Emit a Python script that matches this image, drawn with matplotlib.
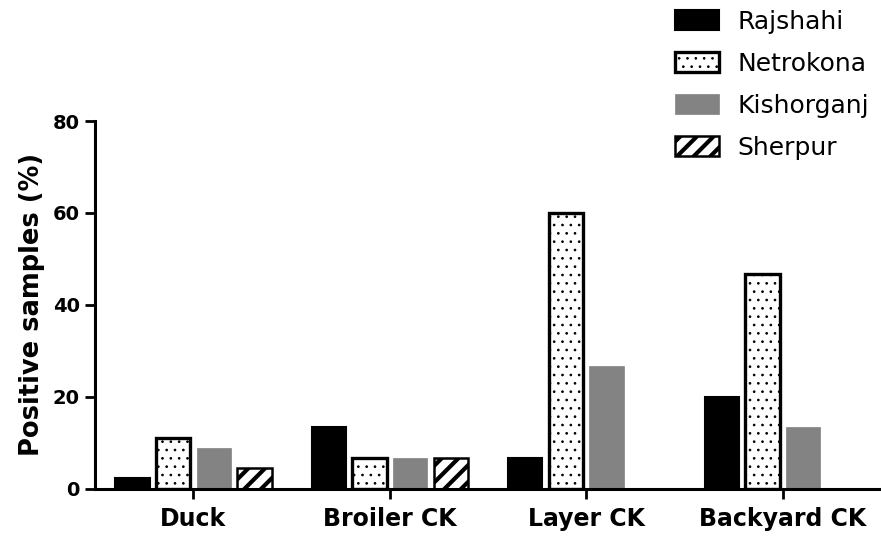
import matplotlib
matplotlib.use("Agg")
import matplotlib.pyplot as plt
import numpy as np

categories = ["Duck", "Broiler CK", "Layer CK", "Backyard CK"]
series_names = ["Rajshahi", "Netrokona", "Kishorganj", "Sherpur"]
rajshahi = [2.2, 13.3, 6.7, 20.0]
netrokona = [11.1, 6.7, 60.0, 46.7]
kishorganj = [8.9, 6.7, 26.7, 13.3]
sherpur = [4.4, 6.7, 0.0, 0.0]
yticks = [0, 20, 40, 60, 80]

plt.rcParams['font.family'] = ['DejaVu Sans']

fig = plt.figure(figsize=(8.81, 5.38), dpi=100)
ax = fig.add_axes([0.108, 0.092, 0.892, 0.683])

x = np.arange(len(categories))
step = 0.207
w = 0.175
styles = [
    dict(facecolor='black', edgecolor='black', linewidth=1.5, hatch=None, hlw=1.0),
    dict(facecolor='white', edgecolor='black', linewidth=2.4, hatch='..', hlw=0.7),
    dict(facecolor='#838383', edgecolor='#838383', linewidth=0.5, hatch=None, hlw=1.0),
    dict(facecolor='white', edgecolor='black', linewidth=1.8, hatch='//', hlw=3.0),
]
data = [rajshahi, netrokona, kishorganj, sherpur]
handles = []
for i, (vals, st, name) in enumerate(zip(data, styles, series_names)):
    with plt.rc_context({'hatch.linewidth': st['hlw'], 'hatch.color': 'black'}):
        b = ax.bar(x + (i - 1.5) * step, vals, width=w, facecolor=st['facecolor'],
                   edgecolor=st['edgecolor'], linewidth=st['linewidth'],
                   hatch=st['hatch'], label=name, zorder=2)
    for p in b.patches:
        if hasattr(p, 'set_hatch_linewidth'):
            p.set_hatch_linewidth(st['hlw'])
    handles.append(b)

ax.set_xlim(-0.5, 3.5)
ax.set_ylim(0, 80)
ax.set_yticks(yticks)
ax.set_yticklabels([str(v) for v in yticks], fontsize=14, fontweight='bold')
ax.set_xticks(x)
ax.set_xticklabels(categories, fontsize=17, fontweight='bold')
for s in ['top', 'right']:
    ax.spines[s].set_visible(False)
for s in ['left', 'bottom']:
    ax.spines[s].set_linewidth(2.2)
    ax.spines[s].set_zorder(3)
ax.tick_params(axis='both', direction='out', length=7, width=2.0, color='black')
ax.tick_params(axis='y', pad=4)
ax.tick_params(axis='x', pad=6)
ax.set_ylabel("Positive samples (%)", fontsize=18.5, fontweight='bold', labelpad=6)

leg = fig.legend(handles=handles, labels=series_names, loc='upper left',
                 bbox_to_anchor=(675 / 881, 1 - 10 / 538), frameon=False,
                 fontsize=18, handlelength=1.75, handleheight=0.85,
                 handletextpad=0.75, labelspacing=0.72, borderpad=0,
                 borderaxespad=0)
for p, st in zip(leg.get_patches(), styles):
    if hasattr(p, 'set_hatch_linewidth'):
        p.set_hatch_linewidth(st['hlw'])

fig.savefig("out.png", dpi=100)
